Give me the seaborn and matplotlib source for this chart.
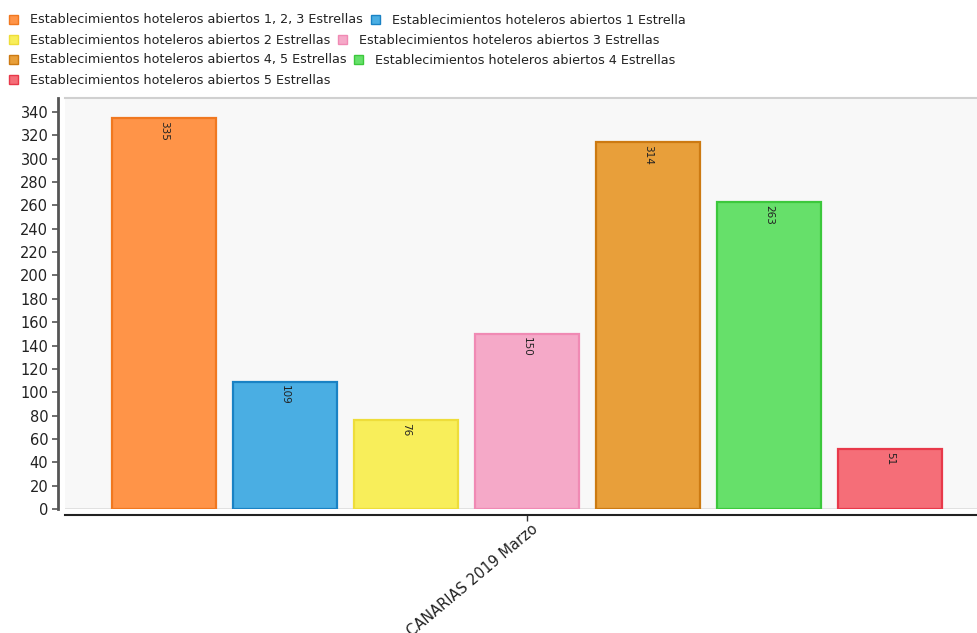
import matplotlib
matplotlib.use("Agg")
import matplotlib.pyplot as plt
import matplotlib.transforms as mtransforms
import seaborn as sns
import pandas as pd

# Data
periodo = ["CANARIAS 2019 Marzo"]
series = [
    "Establecimientos hoteleros abiertos 1, 2, 3 Estrellas",
    "Establecimientos hoteleros abiertos 1 Estrella",
    "Establecimientos hoteleros abiertos 2 Estrellas",
    "Establecimientos hoteleros abiertos 3 Estrellas",
    "Establecimientos hoteleros abiertos 4, 5 Estrellas",
    "Establecimientos hoteleros abiertos 4 Estrellas",
    "Establecimientos hoteleros abiertos 5 Estrellas",
]
valores = [335, 109, 76, 150, 314, 263, 51]
yticks = list(range(0, 341, 20))

# Styling
fill_colors = ["#FF9448", "#4AAEE3", "#F8EE5A", "#F5A9C8", "#E89F3A", "#66E06A", "#F56E78"]
edge_colors = ["#F07820", "#1A82C4", "#EEDD3A", "#F08AB4", "#CC7A12", "#3CC83C", "#E8394A"]

df = pd.DataFrame({
    "periodo": periodo * len(series),
    "serie": series,
    "valor": valores,
})

sns.set_style("white")
plt.rcParams["font.family"] = ["DejaVu Sans"]

W, H = 978, 633
fig = plt.figure(figsize=(W / 100, H / 100), dpi=100)
ax = fig.add_axes([65 / W, (H - 509) / H, 924 / W, (509 - 98) / H])
ax.set_facecolor("#F8F8F8")

sns.barplot(
    data=df, x="periodo", y="valor", hue="serie",
    hue_order=series, palette=fill_colors, saturation=1,
    width=0.8, gap=0.14, ax=ax, legend=True,
)

handles, labels = ax.get_legend_handles_labels()
ax.get_legend().remove()

for container, edge, val in zip(ax.containers, edge_colors, valores):
    for bar in container:
        bar.set_edgecolor(edge)
        bar.set_linewidth(1.6)
        bar.set_alpha(1)
        cx = bar.get_x() + bar.get_width() / 2
        ax.annotate(str(val), xy=(cx, bar.get_height()), xytext=(0, -2),
                    textcoords="offset points", rotation=270,
                    ha="center", va="top", fontsize=7.5, color="#222222")

for h, edge in zip(handles, edge_colors):
    h.set_edgecolor(edge)
    h.set_linewidth(1.0)

ax.set_xlim(-0.4363, 0.4363)
ax.set_ylim(0, 352)
ax.set_yticks(yticks)
ax.set_xlabel("")
ax.set_ylabel("")
ax.axhline(0, color="#DDDDDD", lw=1.2, zorder=0.5)

ax.tick_params(axis="y", labelsize=10.5, length=4, width=1.2, color="#555555",
               labelcolor="#222222", pad=3, left=True)
ax.set_xticks([0])
ax.tick_params(axis="x", length=4, width=1, color="#333333", bottom=True,
               labelbottom=False)

# Slanted category label under the tick
label_tf = ax.get_xaxis_transform() + mtransforms.ScaledTranslation(
    4 / 100, -12 / 100, fig.dpi_scale_trans)
ax.text(0, 0, periodo[0], transform=label_tf, rotation=40,
        rotation_mode="anchor", ha="right", va="top",
        fontsize=10.5, color="#222222", clip_on=False)

ax.spines["left"].set_position(("outward", 5))
ax.spines["left"].set_color("#555555")
ax.spines["left"].set_linewidth(2)
ax.spines["bottom"].set_position(("outward", 4))
ax.spines["bottom"].set_color("#222222")
ax.spines["bottom"].set_linewidth(1.5)
ax.spines["top"].set_color("#D0D0D0")
ax.spines["top"].set_linewidth(1.5)
ax.spines["right"].set_visible(False)

# Legend laid out in rows at the top
rows = [[0, 1], [2, 3], [4, 5], [6]]
row_y = [20, 40, 60, 80]
for idx, yy in zip(rows, row_y):
    leg = fig.legend([handles[i] for i in idx], [labels[i] for i in idx],
                     loc="center left", bbox_to_anchor=(9 / W, 1 - yy / H),
                     ncol=len(idx), frameon=False, fontsize=9.2,
                     handlelength=0.7, handleheight=0.7,
                     handletextpad=0.95, columnspacing=0.6,
                     borderpad=0, borderaxespad=0)
    for t in leg.get_texts():
        t.set_color("#222222")

fig.savefig("out.png", dpi=100)
